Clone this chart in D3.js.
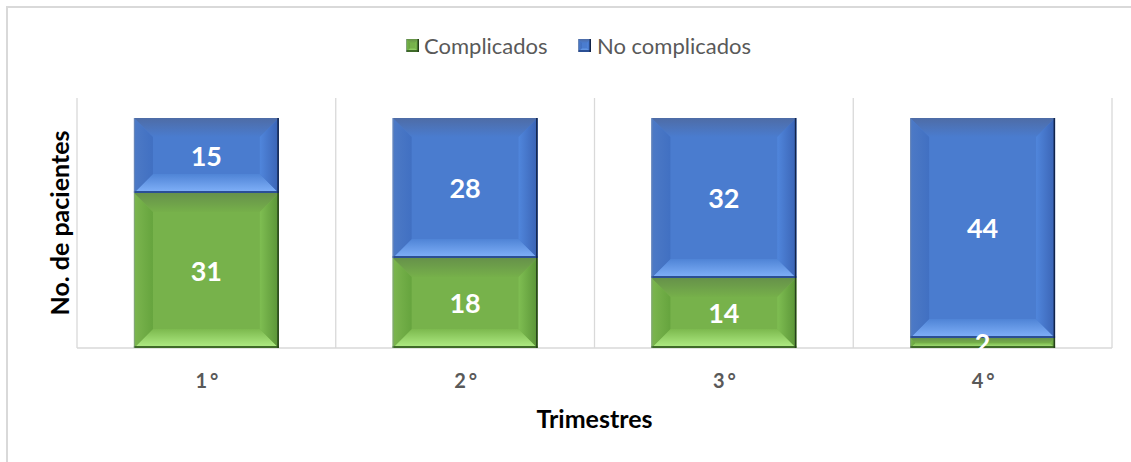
<!DOCTYPE html>
<html>
<head>
<meta charset="utf-8">
<script src="https://cdn.jsdelivr.net/npm/d3@7"></script>
<style>
  html, body { margin: 0; padding: 0; background: #fff; }
  svg { display: block; }
</style>
</head>
<body>
<svg id="chart" width="1131" height="462"></svg>
<script>
const categories = ["1°", "2°", "3°", "4°"];
const seriesNames = ["Complicados", "No complicados"];
const complicados = [31, 18, 14, 2];
const noComplicados = [15, 28, 32, 44];
const yMax = 50;

const W = 1131, H = 462;
const plot = { left: 77, right: 1112, top: 98, bottom: 348 };
const font = "Lato, 'Open Sans', 'Noto Sans', sans-serif";

const svg = d3.select("#chart");

// outer chart border
svg.append("rect").attr("x", 7).attr("y", 7).attr("width", W + 20).attr("height", H + 20)
  .attr("fill", "#fff").attr("stroke", "#d9d9d9").attr("stroke-width", 2);

const x = d3.scaleBand().domain(categories).range([plot.left, plot.right]).paddingInner(0).paddingOuter(0);
const y = d3.scaleLinear().domain([0, yMax]).range([plot.bottom, plot.top]);
const barW = x.bandwidth() * 0.56;

// vertical gridlines at category boundaries
const bounds = categories.map(c => x(c)).concat([plot.right]);
svg.append("g").selectAll("line").data(bounds).join("line")
  .attr("x1", d => d).attr("x2", d => d)
  .attr("y1", plot.top).attr("y2", plot.bottom)
  .attr("stroke", "#d9d9d9").attr("stroke-width", 1.3);

// baseline
svg.append("line").attr("x1", plot.left).attr("x2", plot.right)
  .attr("y1", plot.bottom).attr("y2", plot.bottom)
  .attr("stroke", "#d9d9d9").attr("stroke-width", 1.5);

const palettes = [
  { face: "#77b24b", topOut: "#66914a", topIn: "#76b04a", botIn: "#7cb94e", botOut: "#b2ee86",
    lftOut: "#7cb64f", lftIn: "#66a43e", rgtIn: "#7fbe52", rgtOut: "#5a9437", botLine: "#3f6b28", rgtLine: "#25401a" },
  { face: "#4a7ccf", topOut: "#4e6ca6", topIn: "#4a7ccf", botIn: "#4f84d6", botOut: "#82b2fa",
    lftOut: "#4d7ac6", lftIn: "#4170c2", rgtIn: "#5086dc", rgtOut: "#3a63b4", botLine: "#2b4f95", rgtLine: "#12244a" }
];

const defs = svg.append("defs");
function grad(id, horiz, c0, c1) {
  const g = defs.append("linearGradient").attr("id", id)
    .attr("x1", 0).attr("y1", 0).attr("x2", horiz ? 1 : 0).attr("y2", horiz ? 0 : 1);
  g.append("stop").attr("offset", "0%").attr("stop-color", c0);
  g.append("stop").attr("offset", "100%").attr("stop-color", c1);
}
palettes.forEach((p, i) => {
  grad("top" + i, false, p.topOut, p.topIn);
  grad("bot" + i, false, p.botIn, p.botOut);
  grad("lft" + i, true, p.lftOut, p.lftIn);
  grad("rgt" + i, true, p.rgtIn, p.rgtOut);
});

function bevelRect(g, x0, y0, w, h, i, bev) {
  const p = palettes[i];
  const b = Math.min(bev, h / 2, w / 2);
  const x1 = x0 + w, y1 = y0 + h;
  g.append("rect").attr("x", x0).attr("y", y0).attr("width", w).attr("height", h).attr("fill", p.face);
  const poly = (pts, fill) => g.append("polygon").attr("points", pts.map(q => q.join(",")).join(" ")).attr("fill", fill);
  poly([[x0, y0], [x1, y0], [x1 - b, y0 + b], [x0 + b, y0 + b]], "url(#top" + i + ")");
  poly([[x0, y1], [x1, y1], [x1 - b, y1 - b], [x0 + b, y1 - b]], "url(#bot" + i + ")");
  poly([[x0, y0], [x0 + b, y0 + b], [x0 + b, y1 - b], [x0, y1]], "url(#lft" + i + ")");
  poly([[x1, y0], [x1 - b, y0 + b], [x1 - b, y1 - b], [x1, y1]], "url(#rgt" + i + ")");
  // dark bottom edge & right edge
  g.append("line").attr("x1", x0).attr("x2", x1).attr("y1", y1 - 1).attr("y2", y1 - 1)
    .attr("stroke", p.botLine).attr("stroke-width", 2);
  g.append("line").attr("x1", x1 - 0.75).attr("x2", x1 - 0.75).attr("y1", y0).attr("y2", y1)
    .attr("stroke", p.rgtLine).attr("stroke-width", 1.5);
  g.append("line").attr("x1", x0 + 0.5).attr("x2", x0 + 0.5).attr("y1", y0).attr("y2", y1)
    .attr("stroke", "#8a96a8").attr("stroke-opacity", 0.5).attr("stroke-width", 1);
}

const stackData = categories.map((c, k) => ({ cat: c, Complicados: complicados[k], "No complicados": noComplicados[k] }));
const stack = d3.stack().keys(seriesNames)(stackData);

const barsG = svg.append("g");
const labelsG = svg.append("g");
stack.forEach((layer, i) => {
  layer.forEach(d => {
    const cx = x(d.data.cat) + x.bandwidth() / 2;
    const x0 = cx - barW / 2;
    const yTop = y(d[1]), yBot = y(d[0]);
    bevelRect(barsG, x0, yTop, barW, yBot - yTop, i, 19);
    labelsG.append("text")
      .attr("x", cx).attr("y", (yTop + yBot) / 2 + 10)
      .attr("text-anchor", "middle")
      .attr("font-family", font).attr("font-weight", 700).attr("font-size", 27)
      .attr("fill", "#ffffff")
      .text(d[1] - d[0]);
  });
});

// x axis tick labels
svg.append("g").selectAll("text").data(categories).join("text")
  .attr("x", d => x(d) + x.bandwidth() / 2 + 2)
  .attr("y", 388)
  .attr("text-anchor", "middle")
  .attr("font-family", font).attr("font-weight", 700).attr("font-size", 20)
  .attr("fill", "#595959")
  .attr("letter-spacing", 3)
  .text(d => d);

// axis titles
svg.append("text")
  .attr("x", (plot.left + plot.right) / 2).attr("y", 428)
  .attr("text-anchor", "middle")
  .attr("font-family", font).attr("font-weight", 700).attr("font-size", 25)
  .attr("fill", "#000")
  .text("Trimestres");

svg.append("text")
  .attr("transform", `translate(69,${(plot.top + plot.bottom) / 2}) rotate(-90)`)
  .attr("text-anchor", "middle")
  .attr("font-family", font).attr("font-weight", 700).attr("font-size", 25)
  .attr("fill", "#000")
  .text("No. de pacientes");

// legend
const legend = svg.append("g");
const legendItems = [
  { name: seriesNames[0], i: 0, sx: 406, tx: 424 },
  { name: seriesNames[1], i: 1, sx: 578, tx: 597 }
];
legendItems.forEach(it => {
  bevelRect(legend, it.sx, 39, 13, 13, it.i, 4);
  legend.append("text")
    .attr("x", it.tx).attr("y", 54)
    .attr("font-family", font).attr("font-size", 22)
    .attr("fill", "#595959")
    .text(it.name);
});
</script>
</body>
</html>
